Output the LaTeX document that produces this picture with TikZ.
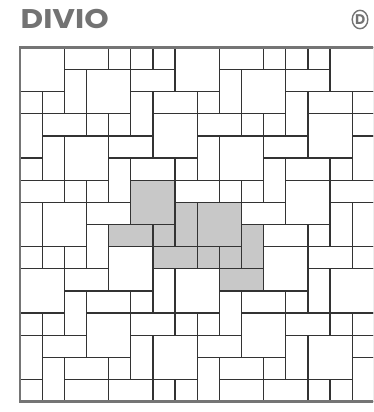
\documentclass[tikz,border=0pt]{standalone}
\usepackage{fontspec}
\setmainfont{Poppins}
\definecolor{titlegray}{HTML}{737373}
\definecolor{bordergray}{HTML}{757575}
\definecolor{linecol}{HTML}{333333}
\definecolor{hilite}{HTML}{C8C8C8}
\tikzset{
  tile/.style={draw=linecol, line width=1.3pt},
  frame/.style={draw=bordergray, line width=2.6pt},
}
\begin{document}
\begin{tikzpicture}[x=1pt,y=-1pt]
\useasboundingbox (0,0) rectangle (373,412);
\fill[white] (0,0) rectangle (373,412);
\def\u{22.15}
\def\ox{20}
\def\oy{47.3}
% title
\node[anchor=base west, inner sep=0pt, text=titlegray,
      font=\fontsize{27}{27}\selectfont\bfseries] (title) at (20.5,28.5)
      {\scalebox{1.15}[1]{DIVIO}};
% circled D logo
\draw[titlegray, line width=1.4pt] (360,19.5) ellipse [x radius=7.8pt, y radius=9.2pt];
\node[inner sep=0pt, text=titlegray, font=\fontsize{14}{14}\selectfont\bfseries] (logo) at (360.3,19.7) {D};
\begin{scope}
\clip (0,0) rectangle (373,412);
\clip (\ox,\oy) rectangle ({\ox+16*\u},{\oy+16*\u});
% highlighted repeat unit
\foreach \c/\r/\w/\h in {5/6/2/2, 7/7/1/2, 8/7/2/2, 4/8/2/1, 6/8/1/1, 6/9/2/1, 8/9/1/1, 9/9/1/1, 10/8/1/2, 9/10/2/1}{
  \fill[hilite] ({\ox+\c*\u},{\oy+\r*\u}) rectangle ++({\w*\u},{\h*\u});
}
% all tiles
\foreach \i in {-2,...,2}{
  \foreach \j in {-3,...,3}{
    \pgfmathsetmacro\dx{7*\i-\j}
    \pgfmathsetmacro\dy{3*\j}
    \foreach \c/\r/\w/\h in {5/6/2/2, 7/7/1/2, 8/7/2/2, 4/8/2/1, 6/8/1/1, 6/9/2/1, 8/9/1/1, 9/9/1/1, 10/8/1/2, 9/10/2/1}{
      \draw[tile] ({\ox+(\c+\dx)*\u},{\oy+(\r+\dy)*\u}) rectangle ++({\w*\u},{\h*\u});
    }
  }
}
\end{scope}
\begin{scope}
\clip (0,0) rectangle (373,412);
\draw[frame] (\ox,\oy) rectangle ({\ox+16*\u},{\oy+16*\u});
\end{scope}
\end{tikzpicture}
\end{document}
